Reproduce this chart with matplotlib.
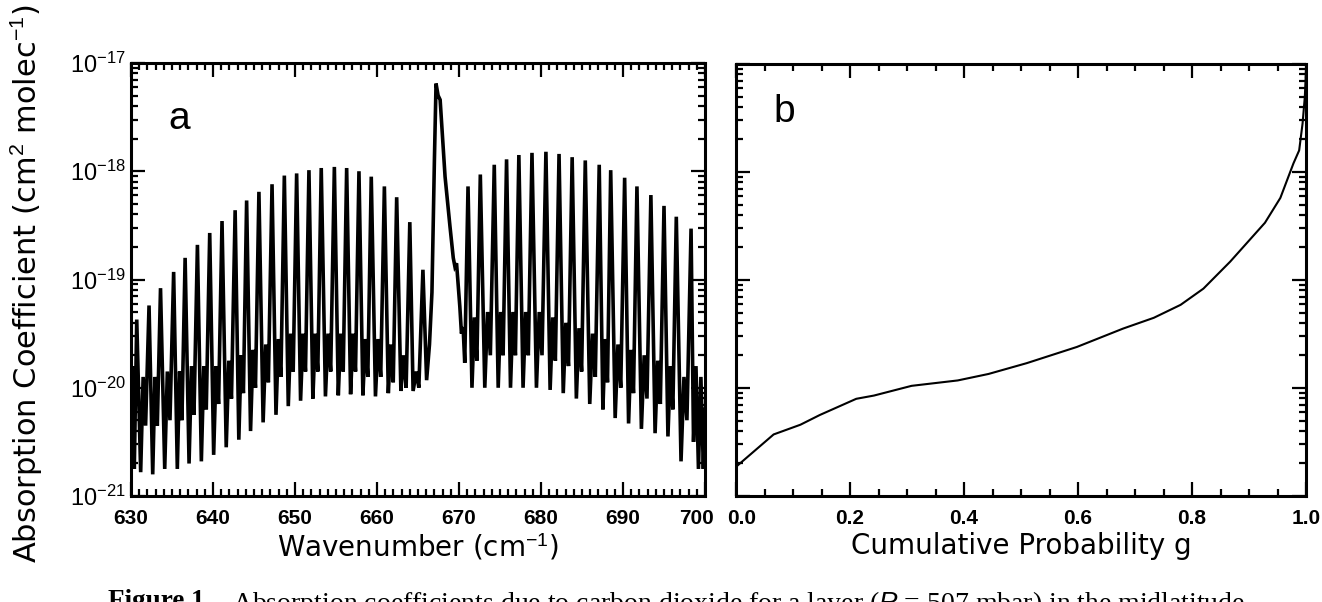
import matplotlib
matplotlib.use("Agg")
import matplotlib.pyplot as plt
import matplotlib.transforms as mtransforms
from matplotlib.ticker import MultipleLocator, LogLocator, NullFormatter
import numpy as np

# ── Panel a: CO2 15 um band, values read as log10(k) ───────────────────────
# P branch main lines
p_centre = [630.7, 632.2, 633.6, 635.2, 636.6, 638.1, 639.6, 641.1, 642.7,
            644.1, 645.6, 647.2, 648.7, 650.2, 651.7, 653.2, 654.8, 656.3,
            657.8, 659.3, 660.9, 662.4, 664.0]
p_peak = [-19.37, -19.24, -19.08, -18.93, -18.80, -18.68, -18.57, -18.46,
          -18.36, -18.27, -18.19, -18.12, -18.04, -18.02, -17.99, -17.97,
          -17.96, -17.97, -18.00, -18.05, -18.14, -18.24, -18.47]
# between-line structure: deep trough, weak-line shoulder, shallow trough
p_trough = [-20.78, -20.80, -20.75, -20.75, -20.70, -20.68, -20.62, -20.55,
            -20.48, -20.40, -20.32, -20.25, -20.17, -20.12, -20.10, -20.08,
            -20.07, -20.06, -20.07, -20.08, -20.05, -20.03]
p_shoulder = [-19.90, -19.90, -19.85, -19.85, -19.80, -19.80, -19.80, -19.75,
              -19.70, -19.65, -19.60, -19.55, -19.50, -19.50, -19.50, -19.50,
              -19.50, -19.50, -19.55, -19.55, -19.60, -19.70]
p_dip = [-20.35, -20.35, -20.30, -20.30, -20.25, -20.20, -20.15, -20.10,
         -20.05, -20.00, -19.95, -19.90, -19.85, -19.85, -19.85, -19.85,
         -19.85, -19.85, -19.90, -19.90, -19.95, -20.00]

# R branch main lines
r_centre = [671.1, 672.6, 674.3, 675.8, 677.3, 678.9, 680.6, 682.2, 683.8,
            685.4, 687.1, 688.5, 690.2, 691.7, 693.4, 695.0, 696.5, 698.3]
r_peak = [-18.14, -18.03, -17.94, -17.89, -17.85, -17.83, -17.82, -17.84,
          -17.87, -17.90, -17.94, -17.99, -18.06, -18.14, -18.22, -18.32,
          -18.42, -18.53]
r_trough = [-20.00, -20.00, -20.00, -20.00, -20.00, -20.00, -20.02, -20.05,
            -20.10, -20.15, -20.20, -20.28, -20.33, -20.38, -20.42, -20.45,
            -20.68]
r_shoulder = [-19.35, -19.30, -19.30, -19.30, -19.30, -19.30, -19.35, -19.40,
              -19.45, -19.50, -19.55, -19.60, -19.65, -19.70, -19.75, -19.80,
              -19.90]
r_dip = [-19.75, -19.70, -19.70, -19.70, -19.70, -19.70, -19.75, -19.80,
         -19.85, -19.90, -19.95, -20.00, -20.05, -20.10, -20.15, -20.20,
         -20.30]

# band edges and the Q branch, read point by point
left_wn = [630.0, 630.2, 630.4]
left_k = [-20.30, -19.80, -20.75]
q_wn = [664.4, 664.8, 665.1, 665.6, 666.05, 666.4, 666.7, 667.0, 667.2,
        667.45, 667.7, 668.0, 668.3, 668.9, 669.3, 669.5, 669.7, 670.1,
        670.3, 670.5, 670.7]
q_k = [-20.03, -19.85, -20.00, -18.91, -19.93, -19.60, -19.12, -17.90,
       -17.19, -17.30, -17.34, -17.70, -18.05, -18.51, -18.80, -18.88,
       -18.85, -19.25, -19.50, -19.44, -19.77]
right_wn = [698.6, 698.9, 699.2, 699.5, 699.8, 700.0]
right_k = [-20.50, -19.80, -20.75, -19.90, -20.75, -20.20]

# ── Panel b: k-distribution ────────────────────────────────────────────────
g = [0.0, 0.066, 0.113, 0.147, 0.211, 0.242, 0.308, 0.389, 0.443, 0.51,
     0.598, 0.679, 0.733, 0.78, 0.82, 0.867, 0.928, 0.955, 0.978, 0.988,
     0.994, 0.998, 1.0]
g_k = [-20.73, -20.43, -20.34, -20.25, -20.10, -20.07, -19.98, -19.93,
       -19.87, -19.77, -19.62, -19.45, -19.35, -19.23, -19.08, -18.83,
       -18.47, -18.24, -17.92, -17.80, -17.55, -17.30, -17.05]


def branch(centre, peak, trough, shoulder, dip):
    xs, ys = [], []
    for i, c in enumerate(centre):
        xs.append(c)
        ys.append(peak[i])
        if i < len(centre) - 1:
            d = centre[i + 1] - c
            xs += [c + 0.32 * d, c + 0.52 * d, c + 0.72 * d]
            ys += [trough[i], shoulder[i], dip[i]]
    return xs, ys


px, py = branch(p_centre, p_peak, p_trough, p_shoulder, p_dip)
rx, ry = branch(r_centre, r_peak, r_trough, r_shoulder, r_dip)
wn = left_wn + px + q_wn + rx + right_wn
logk = left_k + py + q_k + ry + right_k
k = 10.0 ** np.array(logk)

plt.rcParams.update({
    "font.family": "Liberation Sans",
    "mathtext.fontset": "custom",
    "mathtext.rm": "Liberation Sans",
    "mathtext.it": "Liberation Sans:italic",
    "mathtext.bf": "Liberation Sans:bold",
    "axes.linewidth": 2.2,
})
LABEL_FONT = "DejaVu Sans"

fig = plt.figure(figsize=(13.22, 6.02), dpi=100)
ax1 = fig.add_axes([131 / 1322, 106 / 602, 574 / 1322, 433 / 602])
ax2 = fig.add_axes([736 / 1322, 106 / 602, 570 / 1322, 432 / 602])

ax1.plot(wn, k, color="black", lw=2.6, solid_joinstyle="miter")
ax2.plot(g, 10.0 ** np.array(g_k), color="black", lw=1.5)

for ax in (ax1, ax2):
    ax.set_yscale("log")
    ax.set_ylim(1e-21, 1e-17)
    ax.yaxis.set_minor_locator(LogLocator(base=10, subs=np.arange(2, 10)))
    ax.yaxis.set_minor_formatter(NullFormatter())
    ax.tick_params(which="both", direction="in", top=True, right=True,
                   width=1.6, labelsize=15, pad=9)
    ax.tick_params(which="major", length=10)
    ax.tick_params(which="minor", length=5)

ax1.set_xlim(630, 700)
ax1.xaxis.set_major_locator(MultipleLocator(10))
ax1.xaxis.set_minor_locator(MultipleLocator(1))
ax1.tick_params(axis="y", pad=4, labelsize=17)
ax1.set_xlabel("Wavenumber (cm$^{-1}$)", family=LABEL_FONT, fontsize=20,
               labelpad=3)
ax1.set_ylabel("Absorption Coefficient (cm$^2$ molec$^{-1}$)",
               family=LABEL_FONT, fontsize=22)
ax1.yaxis.set_label_coords(-0.150, 0.49)
ax1.text(0.065, 0.87, "a", transform=ax1.transAxes, fontsize=28,
         ha="left", va="center")

ax2.set_xlim(0, 1)
ax2.xaxis.set_major_locator(MultipleLocator(0.2))
ax2.xaxis.set_minor_locator(MultipleLocator(0.05))
ax2.xaxis.set_major_formatter(plt.FormatStrFormatter("%.1f"))
ax2.yaxis.set_major_formatter(NullFormatter())
ax2.set_xlabel("Cumulative Probability g", family=LABEL_FONT, fontsize=20,
               labelpad=3)
ax2.text(0.065, 0.89, "b", transform=ax2.transAxes, fontsize=28,
         ha="left", va="center")

fig.text(108 / 1322, 1 - 589 / 602, "Figure 1.",
         family="Liberation Serif", fontweight="bold", fontsize=19.5,
         ha="left", va="top")
fig.text(232 / 1322, 1 - 589 / 602,
         "Absorption coefficients due to carbon dioxide for a "
         "layer ($P$ = 507 mbar) in the midlatitude",
         family="Liberation Serif", fontsize=20, ha="left", va="top")

fig.canvas.draw()
for ax in (ax1, ax2):
    for lab in ax.get_xticklabels():
        lab.set_fontweight("bold")

# the two labels where the panels meet sit a little apart
for tick in ax1.xaxis.get_major_ticks():
    if abs(tick.get_loc() - 700) < 1e-6:
        tick.label1.set_transform(tick.label1.get_transform() +
                                  mtransforms.ScaledTranslation(
                                      -0.08, 0, fig.dpi_scale_trans))
for tick in ax2.xaxis.get_major_ticks():
    if abs(tick.get_loc()) < 1e-6:
        tick.label1.set_transform(tick.label1.get_transform() +
                                  mtransforms.ScaledTranslation(
                                      0.06, 0, fig.dpi_scale_trans))

fig.savefig("out.png", dpi=100)
